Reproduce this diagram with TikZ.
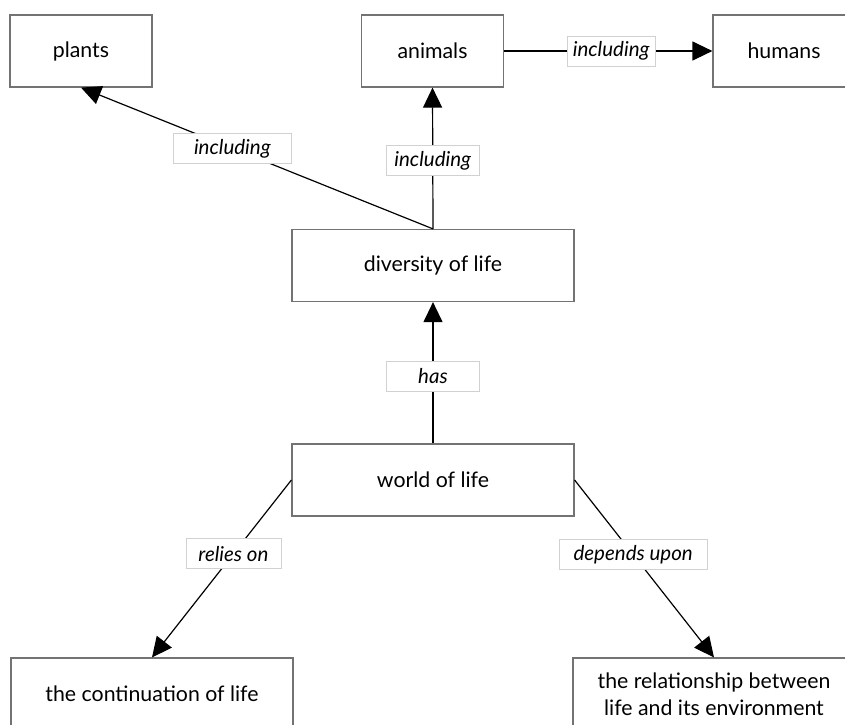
\documentclass[tikz,border=0pt]{standalone}
\usepackage{fontspec}
\setmainfont{Lato}
\usetikzlibrary{arrows.meta}
\begin{document}
\begin{tikzpicture}[x=1pt,y=-1pt,
  concept/.style={draw=black!55, line width=1.2pt, fill=white, minimum width=282pt, minimum height=72pt, inner sep=0pt, align=center, font=\fontsize{21.3}{27}\selectfont},
  small/.style={minimum width=142pt},
  lbl/.style={draw=black!18, fill=white, line width=0.8pt, minimum width=93pt, minimum height=30pt, inner sep=2pt, font=\itshape\fontsize{20.5}{22}\selectfont},
  link/.style={line width=1.2pt, -{Triangle[length=20pt,width=19pt]}}]
\useasboundingbox (0,0) rectangle (845,724);
\node[concept,small] (plants) at (81,51) {plants};
\node[concept,small] (animals) at (432.5,51) {animals};
\node[concept,small] (humans) at (784,51) {humans};
\node[concept] (diversity) at (433,265.5) {diversity of life};
\node[concept] (world) at (433,480) {world of life};
\node[concept] (cont) at (152,694) {the continuation of life};
\node[concept] (rel) at (714,694) {the relationship between\\life and its environment};
\draw[link] (diversity.north) -- node[lbl,pos=0.57,minimum width=118pt] {including} (plants.south);
\draw[link] (diversity.north) -- node[lbl,pos=0.483] {including} (animals.south);
\draw[link] (animals.east) -- node[lbl,pos=0.514,minimum width=88pt] {including} (humans.west);
\draw[link] (world.north) -- node[lbl,pos=0.476] {has} (diversity.south);
\draw[link] (world.west) -- node[lbl,pos=0.416,minimum width=95pt] {relies on} (cont.north);
\draw[link] (world.east) -- node[lbl,pos=0.42,minimum width=148pt] {depends upon} (rel.north);
\end{tikzpicture}
\end{document}
